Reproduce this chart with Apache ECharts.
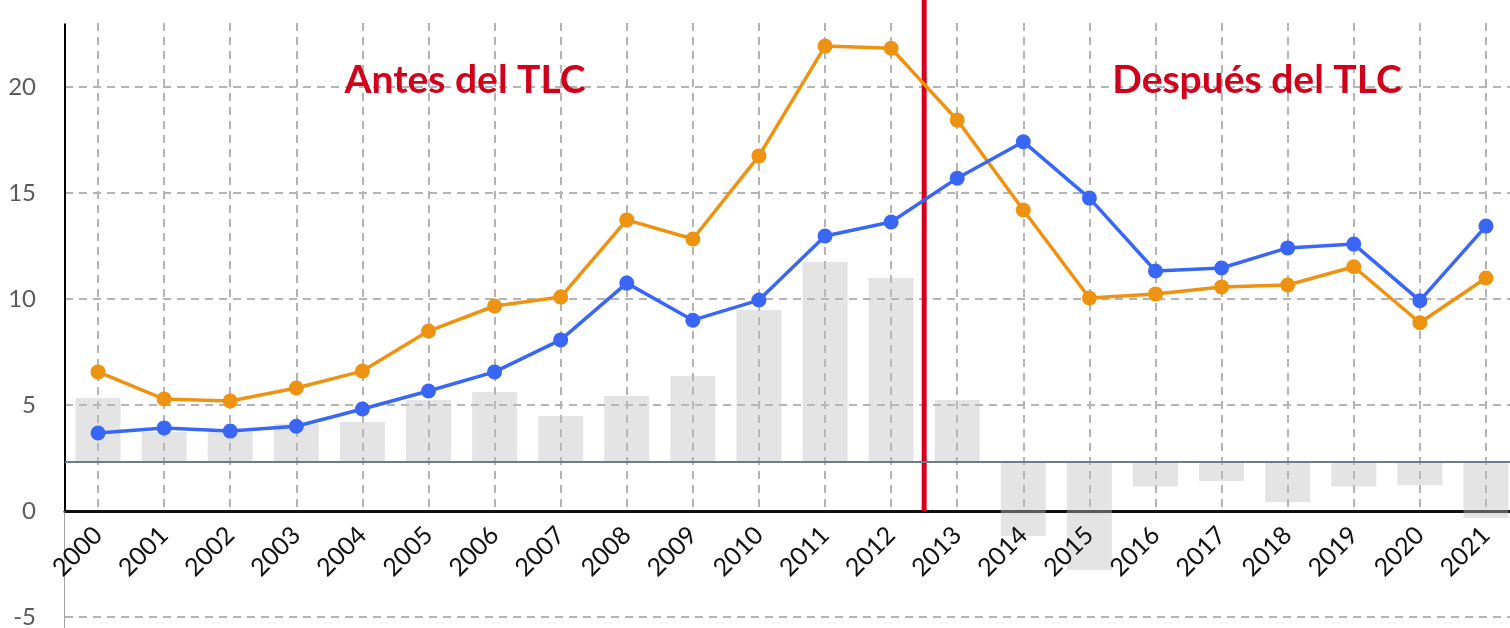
<!DOCTYPE html>
<html>
<head>
<meta charset="utf-8">
<script src="https://cdn.jsdelivr.net/npm/echarts@6/dist/echarts.min.js"></script>
<style>
  html, body { margin: 0; padding: 0; background: #fff; }
  #chart { width: 1510px; height: 628px; }
</style>
</head>
<body>
<div id="chart"></div>
<script>
// years
const years = ['2000', '2001', '2002', '2003', '2004', '2005', '2006', '2007', '2008', '2009', '2010',
  '2011', '2012', '2013', '2014', '2015', '2016', '2017', '2018', '2019', '2020', '2021'];
// blue line
const blueValues = [3.68, 3.92, 3.77, 4.0, 4.81, 5.66, 6.56, 8.07, 10.75, 9.0, 9.95,
  12.97, 13.63, 15.7, 17.42, 14.76, 11.32, 11.46, 12.41, 12.59, 9.92, 13.44];
// orange line
const orangeValues = [6.56, 5.28, 5.19, 5.8, 6.6, 8.49, 9.67, 10.09, 13.73, 12.83, 16.75,
  21.93, 21.83, 18.44, 14.2, 10.05, 10.24, 10.57, 10.66, 11.52, 8.88, 10.99];
// gray bars (own axis, zero sits at 2.31 of the left axis)
const barValues = [3.02, 1.42, 1.42, 1.8, 1.89, 2.92, 3.3, 2.17, 3.11, 4.06, 7.17,
  9.43, 8.68, 2.92, -3.49, -5.09, -1.16, -0.9, -1.89, -1.16, -1.08, -2.64];
const barZeroOnLeft = 2.31;
// annotation texts
const beforeText = 'Antes del TLC';
const afterText = 'Después del TLC';
const splitAt = 12.5; // entre 2012 y 2013

const chart = echarts.init(document.getElementById('chart'), null, { renderer: 'canvas' });

const gridLine = { color: '#b4b4b4', width: 2, type: [8, 6] };

const option = {
  animation: false,
  grid: [
    { left: 65, right: -9, top: -19, bottom: 11, outerBoundsMode: 'none', containLabel: false },
    // lineas verticales y etiquetas de los años (hasta el cero)
    { left: 98.05, right: 24.1, top: 23, bottom: 117, outerBoundsMode: 'none', containLabel: false }
  ],
  xAxis: [
    {
      type: 'category',
      gridIndex: 0,
      data: years,
      axisLine: { onZero: true, onZeroAxisIndex: 0, lineStyle: { color: '#111', width: 3 } },
      axisTick: { show: false },
      splitLine: { show: false },
      axisLabel: { show: false }
    },
    {
      type: 'value',
      gridIndex: 0,
      show: false,
      min: -0.5,
      max: 21.5
    },
    {
      // lineas verticales punteadas
      type: 'category',
      gridIndex: 1,
      position: 'bottom',
      data: years,
      boundaryGap: false,
      axisLine: { show: false },
      axisTick: { show: false },
      axisLabel: { show: false },
      splitLine: { show: true, interval: 0, lineStyle: gridLine }
    },
    {
      // etiquetas de los años, por encima de las barras
      type: 'category',
      gridIndex: 1,
      position: 'bottom',
      data: years,
      boundaryGap: false,
      z: 10,
      axisLine: { show: false },
      axisTick: { show: false },
      splitLine: { show: false },
      axisLabel: {
        interval: 0,
        rotate: 45,
        margin: 20,
        fontSize: 25,
        fontFamily: 'Lato',
        color: '#111'
      }
    }
  ],
  yAxis: [
    {
      type: 'value',
      gridIndex: 0,
      position: 'left',
      min: -5,
      max: 25,
      interval: 5,
      axisLine: { show: false },
      axisTick: { show: false },
      axisLabel: {
        margin: 29,
        fontSize: 24,
        fontFamily: 'Lato',
        color: '#5a5a5a',
        padding: [9, 0, 0, 0]
      },
      splitLine: { show: true, lineStyle: gridLine }
    },
    {
      type: 'value',
      gridIndex: 0,
      position: 'left',
      min: -5 - barZeroOnLeft,
      max: 25 - barZeroOnLeft,
      show: false,
      splitLine: { show: false }
    },
    {
      type: 'value',
      gridIndex: 1,
      show: false,
      splitLine: { show: false }
    }
  ],
  graphic: [
    {
      type: 'text',
      x: 465, y: 80, z: 100,
      style: {
        text: beforeText,
        align: 'center',
        verticalAlign: 'middle',
        fill: '#d0021b',
        font: 'bold 39px Lato'
      }
    },
    {
      type: 'text',
      x: 1257, y: 80, z: 100,
      style: {
        text: afterText,
        align: 'center',
        verticalAlign: 'middle',
        fill: '#d0021b',
        font: 'bold 39px Lato'
      }
    }
  ],
  series: [
    {
      name: 'barras',
      type: 'bar',
      xAxisIndex: 0,
      yAxisIndex: 1,
      data: barValues,
      barWidth: 45,
      itemStyle: { color: 'rgba(190,190,190,0.42)' },
      markLine: {
        silent: true,
        symbol: 'none',
        label: { show: false },
        lineStyle: { color: '#6d7b8c', width: 2, type: 'solid' },
        data: [{ yAxis: 0 }]
      }
    },
    {
      // eje vertical negro hasta el cero
      type: 'line',
      xAxisIndex: 1,
      yAxisIndex: 0,
      data: [[-0.5, 0], [-0.5, 23]],
      symbol: 'none',
      silent: true,
      lineStyle: { color: '#000', width: 2 }
    },
    {
      // tramo gris del eje bajo el cero
      type: 'line',
      xAxisIndex: 1,
      yAxisIndex: 0,
      data: [[-0.52, -5.6], [-0.52, 0]],
      symbol: 'none',
      silent: true,
      clip: false,
      lineStyle: { color: '#777', width: 2 }
    },
    {
      // separador antes / despues
      type: 'line',
      xAxisIndex: 1,
      yAxisIndex: 0,
      data: [[splitAt, 0], [splitAt, 24.2]],
      symbol: 'none',
      silent: true,
      clip: false,
      lineStyle: { color: '#d50020', width: 5 }
    },
    {
      name: 'naranja',
      type: 'line',
      xAxisIndex: 0,
      yAxisIndex: 0,
      data: orangeValues,
      symbol: 'circle',
      symbolSize: 15,
      lineStyle: { color: '#ee9212', width: 3.5 },
      itemStyle: { color: '#ee9212' }
    },
    {
      name: 'azul',
      type: 'line',
      xAxisIndex: 0,
      yAxisIndex: 0,
      data: blueValues,
      symbol: 'circle',
      symbolSize: 15,
      lineStyle: { color: '#3a66f6', width: 3.5 },
      itemStyle: { color: '#3a66f6' }
    }
  ]
};

chart.setOption(option);
</script>
</body>
</html>
